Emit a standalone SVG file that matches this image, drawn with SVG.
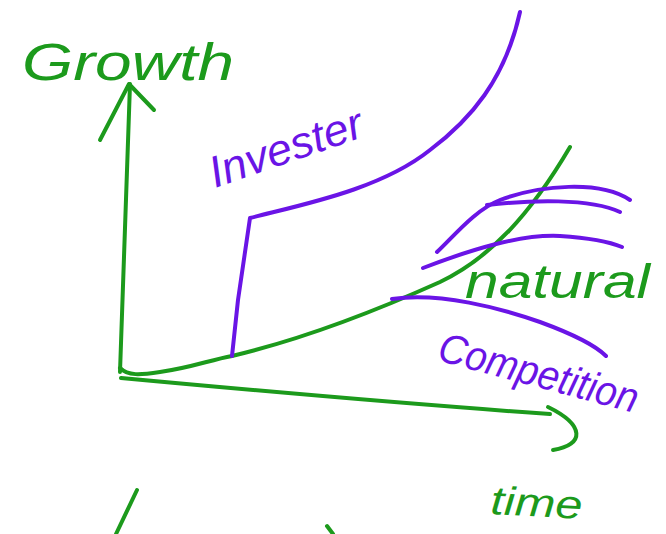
<svg xmlns="http://www.w3.org/2000/svg" width="666" height="534" viewBox="0 0 666 534">
<style>
.g{fill:none;stroke:#1c9a1c;stroke-width:4;stroke-linecap:round;stroke-linejoin:round}
.p{fill:none;stroke:#6a14e6;stroke-width:4;stroke-linecap:round;stroke-linejoin:round}
.tg{fill:#1c9a1c;font-family:"Liberation Sans",sans-serif;font-style:italic}
.tp{fill:#6a14e6;font-family:"Liberation Sans",sans-serif;font-style:italic}
</style>
<rect width="666" height="534" fill="#fff"/>
<g id="connectors">
<path class="g" d="M120,372 L130,84"/>
<path class="g" d="M100,140 L129,84 L154,110"/>
<path class="g" d="M121,378 C250,390 420,405 550,414"/>
<path class="g" d="M548,407 C585,425 585,445 553,450"/>
<path class="g" d="M120,368 C128,376 140,375 160,372 C190,368 210,360 232,356 C320,335 400,300 440,282 C490,258 530,215 570,147"/>
<path class="p" d="M232,356 L238,300 L250,218 C300,205 380,190 430,150 C470,120 505,80 520,12"/>
<path class="p" d="M392,299 C440,292 500,308 540,322 C570,333 595,345 606,356"/>
<path class="p" d="M437,252 C455,235 475,210 500,200 C540,185 600,180 630,200"/>
<path class="p" d="M487,205 C530,200 590,198 620,212"/>
<path class="p" d="M423,268 C470,250 520,234 560,236 C590,238 610,242 622,247"/>
<path class="g" d="M137,490 L116,534"/>
<path class="g" d="M327,526 L333,534"/>
</g>
<g id="label-growth"><text class="tg" x="22" y="80" font-size="52" textLength="212" lengthAdjust="spacingAndGlyphs">Growth</text></g>
<g id="label-invester"><text class="tp" x="215" y="188" font-size="44" transform="rotate(-19 215 188)" textLength="160" lengthAdjust="spacingAndGlyphs">Invester</text></g>
<g id="label-natural"><text class="tg" x="465" y="298" font-size="48" textLength="185" lengthAdjust="spacingAndGlyphs">natural</text></g>
<g id="label-competition"><text class="tp" x="436" y="360" font-size="42" transform="rotate(15 436 360)" textLength="205" lengthAdjust="spacingAndGlyphs">Competition</text></g>
<g id="label-time"><text class="tg" x="490" y="514" font-size="40" transform="rotate(3 490 514)" textLength="92" lengthAdjust="spacingAndGlyphs">time</text></g>
</svg>
